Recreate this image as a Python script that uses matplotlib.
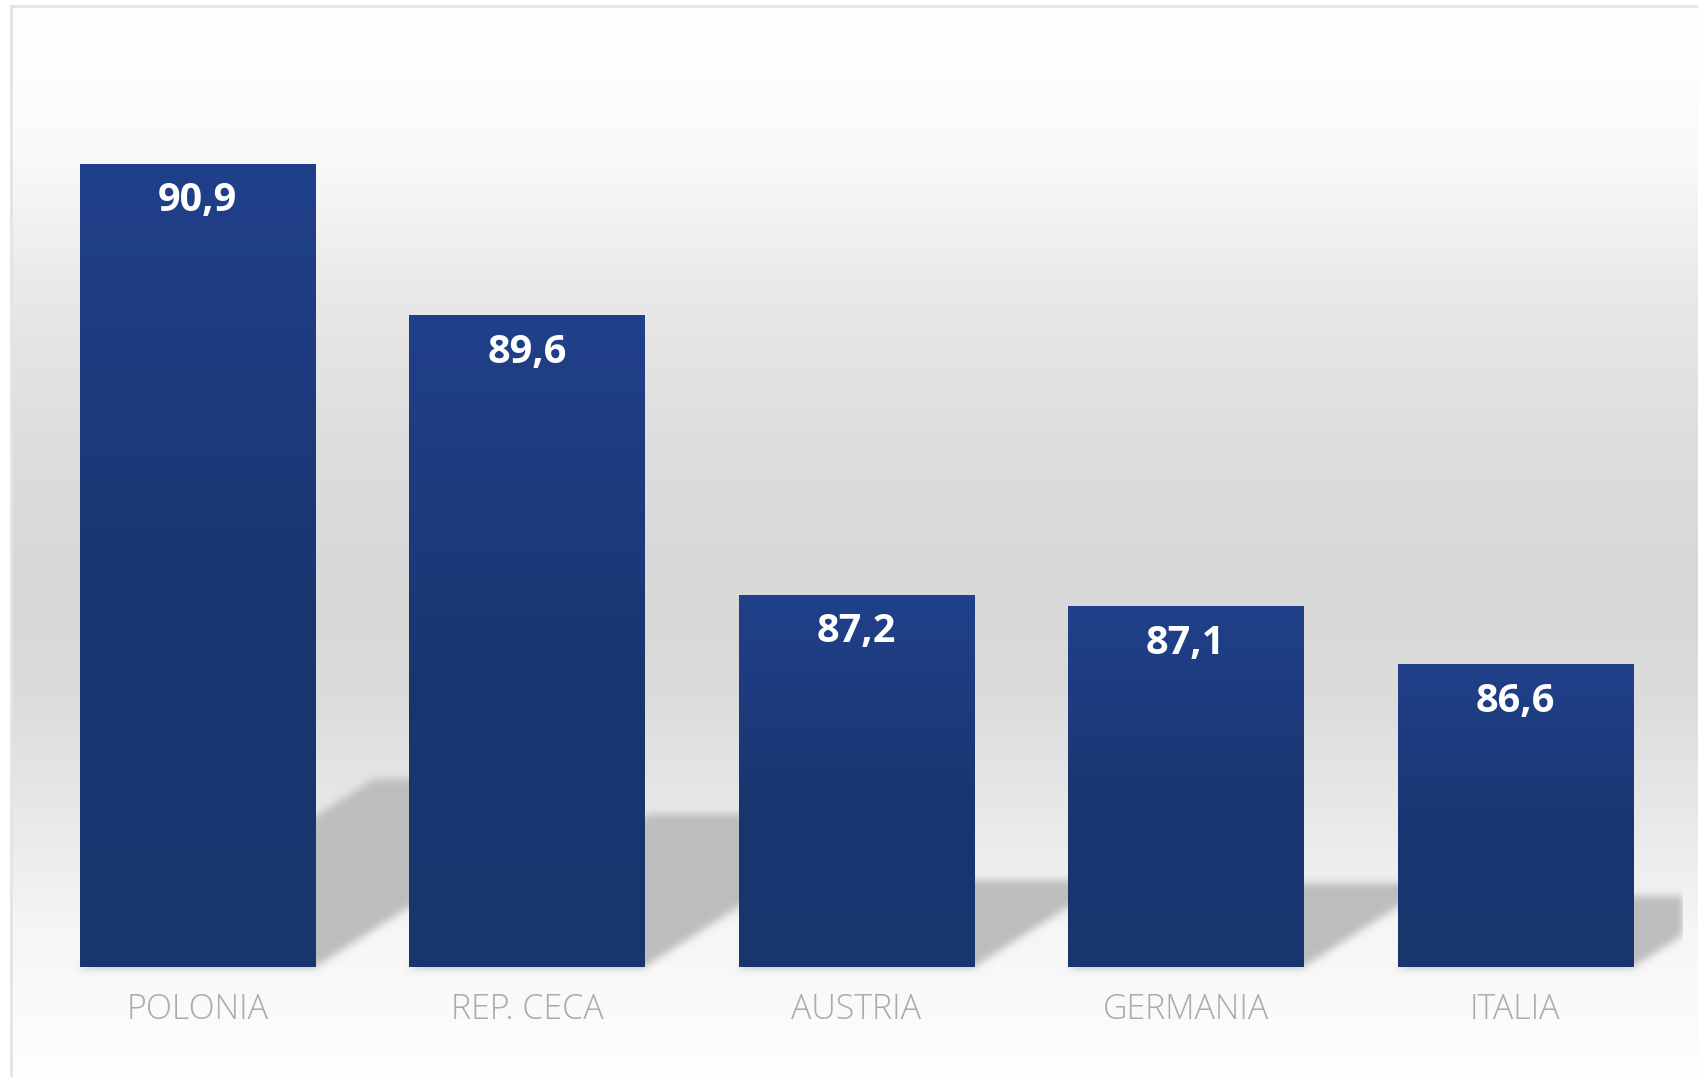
import numpy as np
import matplotlib
matplotlib.use("Agg")
import matplotlib.pyplot as plt
from matplotlib.colors import LinearSegmentedColormap
from matplotlib.lines import Line2D
from matplotlib.patches import Rectangle

countries = ["POLONIA", "REP. CECA", "AUSTRIA", "GERMANIA", "ITALIA"]
values = [90.9, 89.6, 87.2, 87.1, 86.6]
y_min = 84.0

W, H, DPI = 1698, 1077, 100
fig = plt.figure(figsize=(W / DPI, H / DPI), dpi=DPI)
fig.patch.set_facecolor("white")

# background: vertical grey gradient (pixel rows from the top)
bg = fig.add_axes([0, 0, 1, 1], zorder=0)
bg.set_axis_off()
stop_y = [0, 60, 150, 210, 280, 350, 450, 550, 620, 700, 790, 880, 930, 980, 1077]
stop_g = [255, 254, 250, 243, 234, 228, 221, 217, 216, 220, 230, 240, 246, 249, 254]
g = np.interp(np.arange(H), stop_y, stop_g) / 255.0
bg_img = np.repeat(g[:, None, None], 3, axis=2)
bg.imshow(bg_img, aspect="auto", extent=(0, W, H, 0), interpolation="bilinear")
bg.add_patch(Rectangle((0, 0), 10, H, color="white", zorder=2))
bg.add_patch(Rectangle((0, 0), W, 5, color="white", zorder=2))
bg.add_line(Line2D([11, 11], [6, H], color="#e4e4e4", lw=2.0, zorder=3))
bg.add_line(Line2D([11, W], [6, 6], color="#e4e4e4", lw=2.0, zorder=3))
bg.set_xlim(0, W)
bg.set_ylim(H, 0)

# main axes
ax_l, ax_r, ax_b, ax_t = 32.8, 1683.0, 110.0, 1070.0
ax = fig.add_axes([ax_l / W, ax_b / H, (ax_r - ax_l) / W, (ax_t - ax_b) / H], zorder=1)
ax.patch.set_alpha(0)
x = np.arange(len(values))
bar_w = 0.714
ax.set_xlim(-0.5, -0.5 + (ax_r - ax_l) / 329.4)
ax.set_ylim(y_min, y_min + (ax_t - ax_b) / 116.4)
for s in ax.spines.values():
    s.set_visible(False)
ax.set_xticks([])
ax.set_yticks([])

bars = ax.bar(x, [v - y_min for v in values], bottom=y_min, width=bar_w,
              color="#1b3874", linewidth=0, zorder=3)

# cast shadows, computed in pixel space from the bars and blurred
mask = np.zeros((H, W))
slope = 0.64
for b in bars:
    (L, B), (R, T) = ax.transData.transform([(b.get_x(), b.get_y()),
                                            (b.get_x() + b.get_width(), b.get_y() + b.get_height())])
    sh = 0.235 * (T - B)
    for yy in range(int(B), int(B + sh) + 1):
        off = (yy - B) / slope
        c0 = int(max(L + off, 0))
        c1 = int(min(R + off, ax_r))
        r = H - yy
        if 0 <= r < H and c1 > c0:
            mask[r, c0:c1] = 1.0

def blur(a, sigma):
    k = np.arange(-3 * sigma, 3 * sigma + 1)
    k = np.exp(-0.5 * (k / sigma) ** 2)
    k /= k.sum()
    a = np.apply_along_axis(lambda m: np.convolve(m, k, mode="same"), 0, a)
    a = np.apply_along_axis(lambda m: np.convolve(m, k, mode="same"), 1, a)
    return a

mask = blur(mask, 4)
mask[:, int(ax_r):] = 0
shadow = np.zeros((H, W, 4))
shadow[..., :3] = 0.745
shadow[..., 3] = mask
bg.imshow(shadow, aspect="auto", extent=(0, W, H, 0), interpolation="nearest", zorder=1)
bg.set_xlim(0, W)
bg.set_ylim(H, 0)

# bar gradient
cmap = LinearSegmentedColormap.from_list(
    "bar", [(0.0, "#19356e"), (0.45, "#1a3671"), (1.0, "#20408a")])
grad = np.linspace(0, 1, 256)[:, None]
for b in bars:
    x0, y0 = b.get_x(), b.get_y()
    im = ax.imshow(grad, cmap=cmap, origin="lower", aspect="auto", zorder=4,
                   extent=(x0, x0 + b.get_width(), y0, y0 + b.get_height()))
    im.set_clip_path(b)
ax.set_xlim(-0.5, -0.5 + (ax_r - ax_l) / 329.4)
ax.set_ylim(y_min, y_min + (ax_t - ax_b) / 116.4)

for xi, v, name in zip(x, values, countries):
    ax.annotate(f"{v:.1f}".replace(".", ","), xy=(xi, v), xytext=(0, -34.2),
                textcoords="offset points", ha="center", va="baseline",
                color="white", fontsize=28.5, fontweight="bold",
                family=["Open Sans", "DejaVu Sans"], zorder=5)
    ax.annotate(name, xy=(xi, y_min), xytext=(0, -37.4), textcoords="offset points",
                ha="center", va="baseline", color="#a6acb2", fontsize=24.5,
                fontweight="light", family=["Open Sans", "DejaVu Sans"],
                annotation_clip=False, zorder=5)

fig.savefig("out.png", dpi=DPI)
